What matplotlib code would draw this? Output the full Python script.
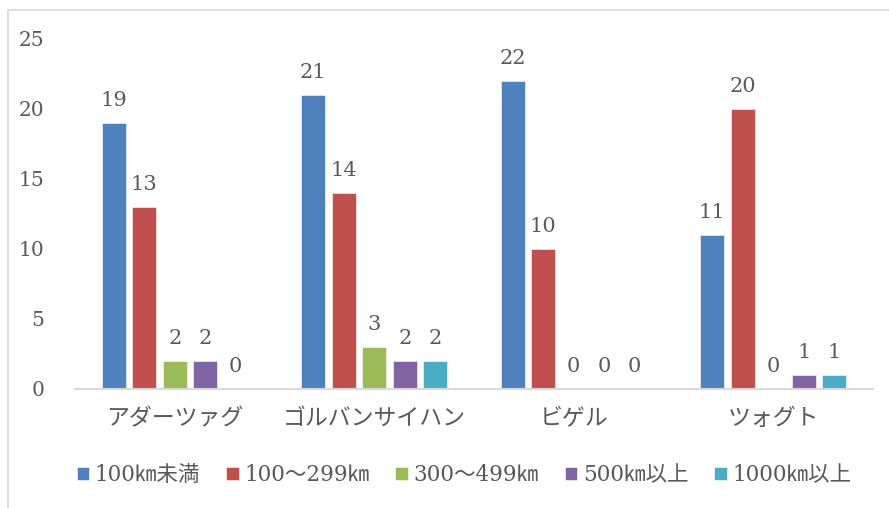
import matplotlib.pyplot as plt
import numpy as np
from matplotlib.patches import Rectangle

categories = ['アダーツァグ', 'ゴルバンサイハン', 'ビゲル', 'ツォグト']
series_names = ['100㎞未満', '100〜299㎞', '300〜499㎞', '500㎞以上', '1000㎞以上']
values = [
    [19, 21, 22, 11],
    [13, 14, 10, 20],
    [2, 3, 0, 0],
    [2, 2, 0, 1],
    [0, 2, 0, 1],
]
colors = ['#4F81BD', '#C0504D', '#9BBB59', '#8064A2', '#4BACC6']
yticks = [0, 5, 10, 15, 20, 25]

text_color = '#595959'
num_font = ['DejaVu Serif', 'Noto Sans CJK JP']
jp_font = ['Noto Sans CJK JP', 'DejaVu Sans']

fig = plt.figure(figsize=(8.89, 5.08), dpi=100)
ax = fig.add_axes([75 / 889, 119 / 508, 798 / 889, 350 / 508])

# outer chart frame
fig.patches.append(Rectangle((8 / 889, -0.1), 1.0, (498 / 508) + 0.1,
                             transform=fig.transFigure, fill=False,
                             edgecolor='#D9D9D9', linewidth=1.2))

x = np.arange(len(categories))
step = 0.153
width = 0.12
offsets = (np.arange(len(series_names)) - 2) * step

for i, (name, vals) in enumerate(zip(series_names, values)):
    bars = ax.bar(x + offsets[i], vals, width, color=colors[i], label=name,
                  edgecolor='white', linewidth=0.4, zorder=2)
    ax.bar_label(bars, labels=[str(v) for v in vals], padding=9,
                 fontsize=15, color=text_color, family=num_font)

ax.set_xlim(-0.5, len(categories) - 0.5)
ax.set_ylim(0, 25)
ax.set_yticks(yticks)
ax.set_yticklabels([str(t) for t in yticks], family=num_font, fontsize=14.5,
                   color=text_color)
ax.set_xticks(x)
ax.set_xticklabels(categories, family=jp_font, fontsize=16.5, color=text_color)
ax.tick_params(axis='y', length=0, pad=22)
ax.tick_params(axis='x', length=0, pad=13)

for side in ['top', 'right', 'left']:
    ax.spines[side].set_visible(False)
ax.spines['bottom'].set_color('#D9D9D9')
ax.spines['bottom'].set_linewidth(1.5)

leg = fig.legend(loc='center', bbox_to_anchor=(464 / 889, 1 - 475 / 508),
                 ncol=5, frameon=False, handlelength=0.6, handleheight=0.6,
                 handletextpad=0.25, columnspacing=1.2,
                 prop={'family': num_font, 'size': 15.5})
for t in leg.get_texts():
    t.set_color(text_color)

fig.savefig('out.png', dpi=100)
